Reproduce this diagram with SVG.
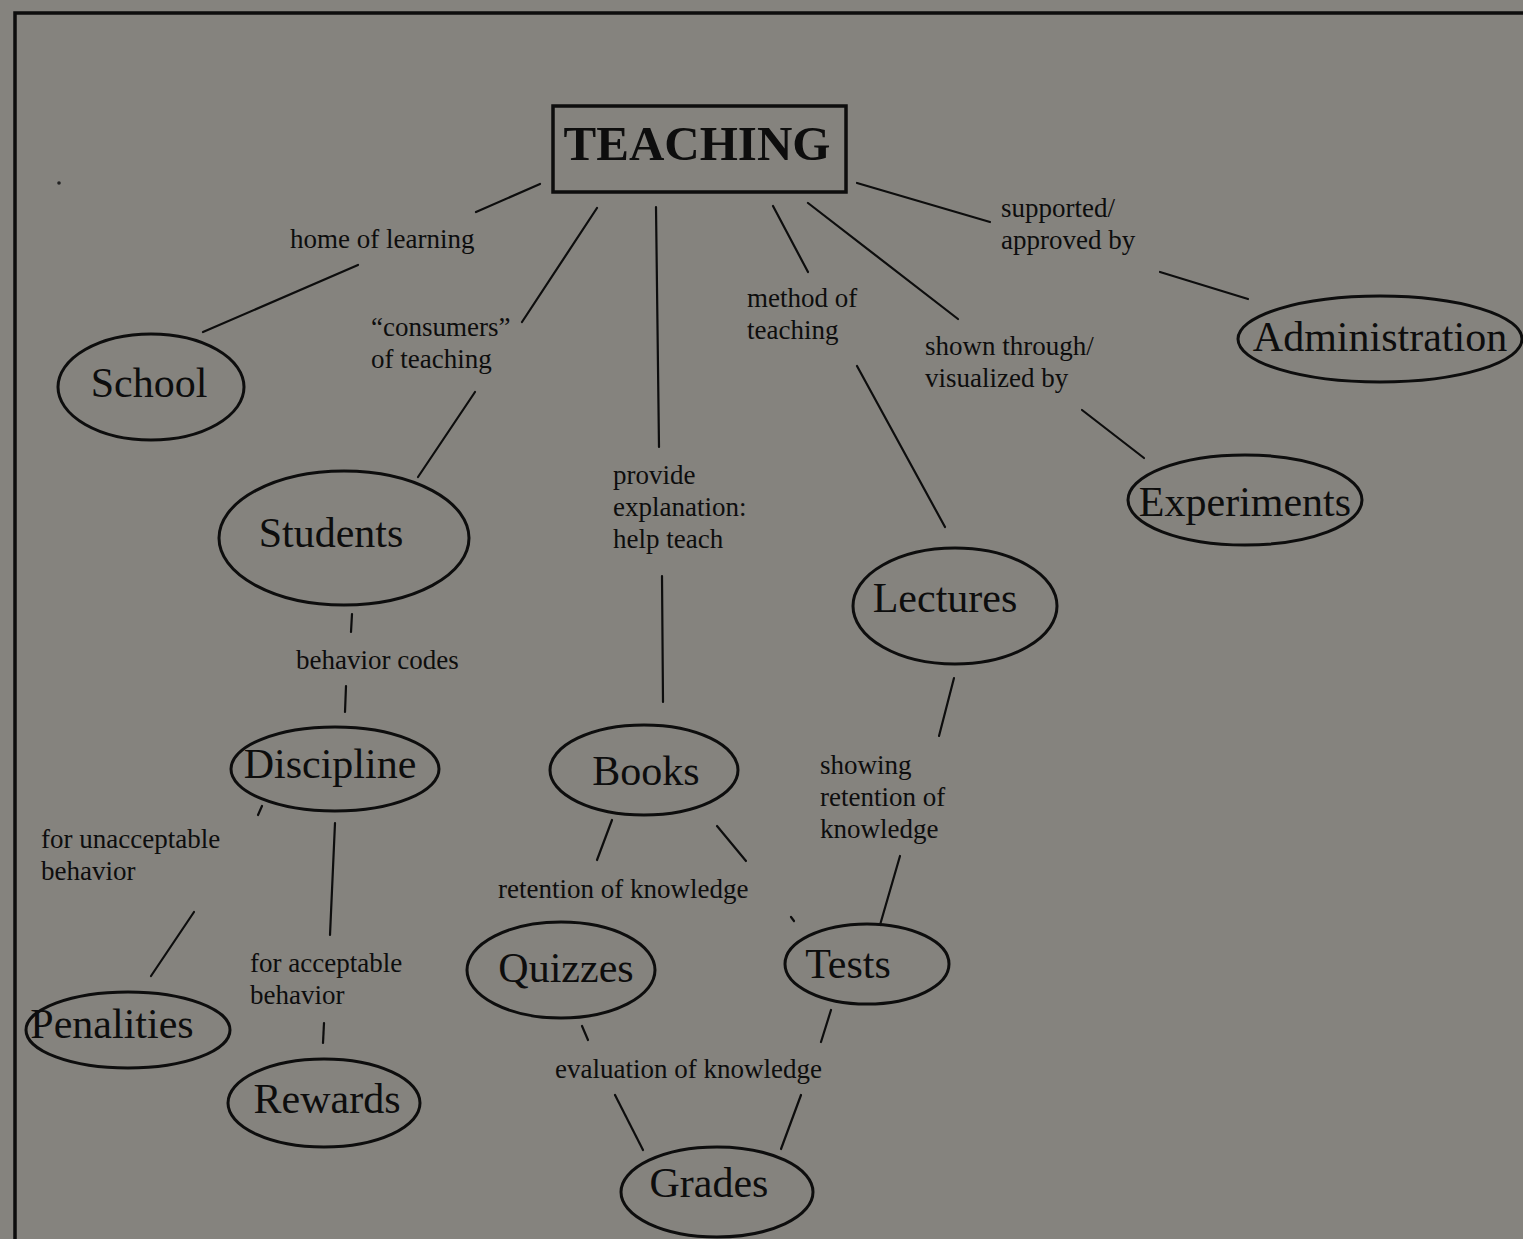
<svg xmlns="http://www.w3.org/2000/svg" width="1523" height="1239" viewBox="0 0 1523 1239">
<style>
.bg{fill:#85837e}
.frame{fill:none;stroke:#0d0d0d;stroke-width:3.5}
.node ellipse{fill:none;stroke:#0d0d0d;stroke-width:3}
.nt{font-family:"Liberation Serif","Times New Roman",serif;font-size:42px;fill:#0d0d0d;text-anchor:middle}
.lbl{font-family:"Liberation Serif","Times New Roman",serif;font-size:27px;fill:#0d0d0d}
#connectors line{stroke:#0d0d0d;stroke-width:2.2;stroke-linecap:round}
</style>
<rect class="bg" x="0" y="0" width="1523" height="1239"/>
<path class="frame" d="M15,1239 L15,13 L1523,13"/>
<circle cx="59" cy="183" r="1.8" fill="#222"/>

<g id="connectors">
<line x1="540" y1="184" x2="476" y2="212"/>
<line x1="358" y1="265" x2="203" y2="332"/>
<line x1="597" y1="208" x2="522" y2="322"/>
<line x1="475" y1="392" x2="418" y2="477"/>
<line x1="656" y1="207" x2="659" y2="447"/>
<line x1="662" y1="576" x2="663" y2="702"/>
<line x1="773" y1="206" x2="808" y2="272"/>
<line x1="857" y1="366" x2="945" y2="527"/>
<line x1="808" y1="203" x2="958" y2="319"/>
<line x1="1082" y1="410" x2="1144" y2="458"/>
<line x1="857" y1="183" x2="990" y2="222"/>
<line x1="1160" y1="272" x2="1248" y2="299"/>
<line x1="352" y1="614" x2="351" y2="632"/>
<line x1="346" y1="686" x2="345" y2="712"/>
<line x1="262" y1="806" x2="258" y2="815"/>
<line x1="194" y1="912" x2="151" y2="976"/>
<line x1="335" y1="823" x2="330" y2="935"/>
<line x1="324" y1="1023" x2="323" y2="1043"/>
<line x1="612" y1="820" x2="597" y2="860"/>
<line x1="717" y1="826" x2="746" y2="861"/>
<line x1="791" y1="917" x2="794" y2="921"/>
<line x1="900" y1="856" x2="880" y2="925"/>
<line x1="954" y1="678" x2="939" y2="736"/>
<line x1="582" y1="1026" x2="588" y2="1040"/>
<line x1="831" y1="1010" x2="821" y2="1042"/>
<line x1="615" y1="1095" x2="643" y2="1150"/>
<line x1="801" y1="1095" x2="781" y2="1149"/>
</g>

<g id="labels">
<text class="lbl" x="290" y="248">home of learning</text>
<text class="lbl" x="371" y="336">“consumers”</text>
<text class="lbl" x="371" y="368">of teaching</text>
<text class="lbl" x="613" y="484">provide</text>
<text class="lbl" x="613" y="516">explanation:</text>
<text class="lbl" x="613" y="548">help teach</text>
<text class="lbl" x="747" y="307">method of</text>
<text class="lbl" x="747" y="339">teaching</text>
<text class="lbl" x="1001" y="217">supported/</text>
<text class="lbl" x="1001" y="249">approved by</text>
<text class="lbl" x="925" y="355">shown through/</text>
<text class="lbl" x="925" y="387">visualized by</text>
<text class="lbl" x="296" y="669">behavior codes</text>
<text class="lbl" x="41" y="848">for unacceptable</text>
<text class="lbl" x="41" y="880">behavior</text>
<text class="lbl" x="250" y="972">for acceptable</text>
<text class="lbl" x="250" y="1004">behavior</text>
<text class="lbl" x="820" y="774">showing</text>
<text class="lbl" x="820" y="806">retention of</text>
<text class="lbl" x="820" y="838">knowledge</text>
<text class="lbl" x="498" y="898">retention of knowledge</text>
<text class="lbl" x="555" y="1078">evaluation of knowledge</text>
</g>

<g id="teaching" class="node">
<rect x="553" y="106" width="293" height="86" fill="none" stroke="#0d0d0d" stroke-width="3.5"/>
<text x="697" y="160" font-family="Liberation Serif,'Times New Roman',serif" font-weight="bold" font-size="49" fill="#0d0d0d" text-anchor="middle">TEACHING</text>
</g>
<g id="school" class="node"><ellipse cx="151" cy="387" rx="93" ry="53"/><text class="nt" x="149" y="397">School</text></g>
<g id="administration" class="node"><ellipse cx="1380" cy="339" rx="142" ry="43"/><text class="nt" x="1380" y="351">Administration</text></g>
<g id="students" class="node"><ellipse cx="344" cy="538" rx="125" ry="67"/><text class="nt" x="331" y="547">Students</text></g>
<g id="experiments" class="node"><ellipse cx="1245" cy="500" rx="117" ry="45"/><text class="nt" x="1245" y="516">Experiments</text></g>
<g id="lectures" class="node"><ellipse cx="955" cy="606" rx="102" ry="58"/><text class="nt" x="945" y="612">Lectures</text></g>
<g id="discipline" class="node"><ellipse cx="335" cy="769" rx="104" ry="42"/><text class="nt" x="330" y="778">Discipline</text></g>
<g id="books" class="node"><ellipse cx="644" cy="770" rx="94" ry="45"/><text class="nt" x="646" y="785">Books</text></g>
<g id="quizzes" class="node"><ellipse cx="561" cy="970" rx="94" ry="48"/><text class="nt" x="566" y="982">Quizzes</text></g>
<g id="tests" class="node"><ellipse cx="867" cy="964" rx="82" ry="40"/><text class="nt" x="848" y="978">Tests</text></g>
<g id="penalities" class="node"><ellipse cx="128" cy="1030" rx="102" ry="38"/><text class="nt" x="112" y="1038">Penalities</text></g>
<g id="rewards" class="node"><ellipse cx="324" cy="1103" rx="96" ry="44"/><text class="nt" x="327" y="1113">Rewards</text></g>
<g id="grades" class="node"><ellipse cx="717" cy="1192" rx="96" ry="45"/><text class="nt" x="709" y="1197">Grades</text></g>
</svg>
